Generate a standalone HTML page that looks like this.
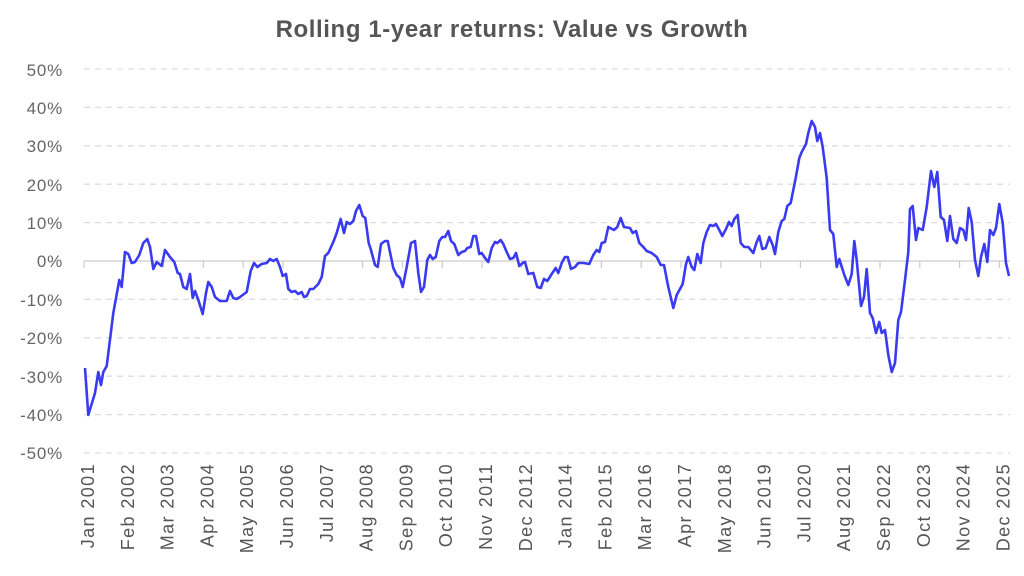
<!DOCTYPE html>
<html><head><meta charset="utf-8"><style>
html,body{margin:0;padding:0;background:#fff;}
svg{display:block;font-family:"Liberation Sans",sans-serif;}
</style></head><body>
<svg width="1024" height="576" viewBox="0 0 1024 576">
<text x="512" y="37" text-anchor="middle" font-size="24" font-weight="bold" fill="#555" letter-spacing="0.6">Rolling 1-year returns: Value vs Growth</text>
<g stroke="#ddd" stroke-width="1.3" stroke-dasharray="6,5">
<line x1="84" x2="1010" y1="69" y2="69"/><line x1="84" x2="1010" y1="107.4" y2="107.4"/><line x1="84" x2="1010" y1="145.8" y2="145.8"/><line x1="84" x2="1010" y1="184.2" y2="184.2"/><line x1="84" x2="1010" y1="222.6" y2="222.6"/>
<line x1="84" x2="1010" y1="299.4" y2="299.4"/><line x1="84" x2="1010" y1="337.8" y2="337.8"/><line x1="84" x2="1010" y1="376.2" y2="376.2"/><line x1="84" x2="1010" y1="414.6" y2="414.6"/><line x1="84" x2="1010" y1="453" y2="453"/>
</g>
<line x1="84" x2="1010" y1="261" y2="261" stroke="#ccc" stroke-width="1.2"/>
<g stroke="#ccc" stroke-width="1.2">
<line x1="84" x2="84" y1="261" y2="268"/><line x1="123.8" x2="123.8" y1="261" y2="268"/><line x1="163.6" x2="163.6" y1="261" y2="268"/><line x1="203.4" x2="203.4" y1="261" y2="268"/><line x1="243.2" x2="243.2" y1="261" y2="268"/><line x1="283" x2="283" y1="261" y2="268"/><line x1="322.8" x2="322.8" y1="261" y2="268"/><line x1="362.6" x2="362.6" y1="261" y2="268"/><line x1="402.4" x2="402.4" y1="261" y2="268"/><line x1="442.2" x2="442.2" y1="261" y2="268"/><line x1="482" x2="482" y1="261" y2="268"/><line x1="521.8" x2="521.8" y1="261" y2="268"/><line x1="561.6" x2="561.6" y1="261" y2="268"/><line x1="601.4" x2="601.4" y1="261" y2="268"/><line x1="641.2" x2="641.2" y1="261" y2="268"/><line x1="681" x2="681" y1="261" y2="268"/><line x1="720.8" x2="720.8" y1="261" y2="268"/><line x1="760.6" x2="760.6" y1="261" y2="268"/><line x1="800.4" x2="800.4" y1="261" y2="268"/><line x1="840.2" x2="840.2" y1="261" y2="268"/><line x1="880" x2="880" y1="261" y2="268"/><line x1="919.8" x2="919.8" y1="261" y2="268"/><line x1="959.6" x2="959.6" y1="261" y2="268"/><line x1="999.4" x2="999.4" y1="261" y2="268"/>
</g>
<g fill="#666" font-size="17" text-anchor="end" letter-spacing="0.8">
<text x="63" y="76">50%</text><text x="63" y="114">40%</text><text x="63" y="152">30%</text><text x="63" y="191">20%</text><text x="63" y="229">10%</text><text x="63" y="267">0%</text><text x="63" y="306">-10%</text><text x="63" y="344">-20%</text><text x="63" y="383">-30%</text><text x="63" y="421">-40%</text><text x="63" y="459">-50%</text>
</g>
<g fill="#555" font-size="18" text-anchor="end" letter-spacing="1.4">
<text transform="translate(94,463) rotate(-90)">Jan 2001</text>
<text transform="translate(133.8,463) rotate(-90)">Feb 2002</text>
<text transform="translate(173.6,463) rotate(-90)">Mar 2003</text>
<text transform="translate(213.4,463) rotate(-90)">Apr 2004</text>
<text transform="translate(253.2,463) rotate(-90)">May 2005</text>
<text transform="translate(293,463) rotate(-90)">Jun 2006</text>
<text transform="translate(332.8,463) rotate(-90)">Jul 2007</text>
<text transform="translate(372.6,463) rotate(-90)">Aug 2008</text>
<text transform="translate(412.4,463) rotate(-90)">Sep 2009</text>
<text transform="translate(452.2,463) rotate(-90)">Oct 2010</text>
<text transform="translate(492,463) rotate(-90)">Nov 2011</text>
<text transform="translate(531.8,463) rotate(-90)">Dec 2012</text>
<text transform="translate(571.6,463) rotate(-90)">Jan 2014</text>
<text transform="translate(611.4,463) rotate(-90)">Feb 2015</text>
<text transform="translate(651.2,463) rotate(-90)">Mar 2016</text>
<text transform="translate(691,463) rotate(-90)">Apr 2017</text>
<text transform="translate(730.8,463) rotate(-90)">May 2018</text>
<text transform="translate(770.6,463) rotate(-90)">Jun 2019</text>
<text transform="translate(810.4,463) rotate(-90)">Jul 2020</text>
<text transform="translate(850.2,463) rotate(-90)">Aug 2021</text>
<text transform="translate(890,463) rotate(-90)">Sep 2022</text>
<text transform="translate(929.8,463) rotate(-90)">Oct 2023</text>
<text transform="translate(969.6,463) rotate(-90)">Nov 2024</text>
<text transform="translate(1009.4,463) rotate(-90)">Dec 2025</text>
</g>
<polyline fill="none" stroke="#3a3af0" stroke-width="2.6" stroke-linejoin="round" points="85,368 88.3,415 95,393 98.3,372 101,385 103.3,372 106.7,366 113.3,313 119.3,280 121.7,287 125,252 128.3,254 131.7,263 135,262 139.3,255 143.3,243 147.3,239 150,247 153.3,269 156.7,262 161.7,266 165,250 170,257 174.3,262 177.7,273 180,274 183.3,287 186.7,289 190,274 192.7,298 195,291 198.3,300 202.7,314 206,293 208.3,282 211.7,287 215,297 220,301 226.7,301 230,291 233.3,298 236.7,299 240,297 246.7,292 250.7,271 254,263 257.3,267 261.7,264 266.7,263 270,259 273.3,261 276.7,259 280,267 282.7,276 286,274 288.3,289 291.7,292 295,291 298.3,294 301.7,292 304,297 306.7,296 310,289 313.3,289 318.3,284 321.7,277 325,256 328.3,253 333.3,242 336.7,233 340.7,219 344,233 346.7,222 350,224 353.3,221 356,211 359.3,205 362.7,216 365.3,218 368.7,243 370.7,249 375,265 377.7,267 381,244 385,241 387.7,241 393.3,268 396.7,275 400,278 402.7,287 406.7,267 411,243 415,241 418.3,273 421,292 424,287 427.3,260 430,255 432.7,259 435.7,257 439.3,241 442.3,237 445,237 448.3,231 451,241 454.3,244 458.3,255 461.7,252 465,251 467.3,248 470.7,247 473.3,236 476,236 479.3,254 481.7,253 485,258 488.3,262 491.7,248 495,242 497.3,243 500.7,240 503.3,244 506.7,252 510,259 513.3,258 516,253 519.3,266 522.7,263 525,262 528.3,274 533.3,273 537.3,287 540.7,288 544,279 547.3,281 551.7,274 555.7,268 558.3,273 561.7,263 565,257 567.7,257 571,269 575,267 578.3,263 583.3,263 589.3,264 593.3,255 596.7,250 599.3,252 601.7,243 605,242 608.3,227 614,230 617.3,227 620.7,218 624,227 630,228 632.7,233 636,231 639.3,243 643.3,247 646.7,251 651.7,253 656.7,257 660.7,265 664,265 668.3,287 673.3,308 676.7,295 682.7,284 686,264 688.3,257 691.7,267 694.3,270 697.3,254 700.7,263 703.3,243 706.7,232 710,225 713.3,226 716,224 719.3,230 722.3,236 726,229 729,222 731.7,226 734.3,219 737.7,215 740.7,243 744.3,247 748.3,247 753.3,253 756.7,242 759.3,236 762.3,249 765.7,248 769.3,237 772.7,245 775,254 778.3,232 781.7,221 784.3,219 787.3,206 790.7,203 795.7,178 799.3,158 801.7,152 806,144 808.3,133 811.7,121 815,127 817.3,141 820,133 822.7,147 826.7,178 830,230 833.3,234 836.7,267 839.3,259 844.3,275 848.3,285 851.7,274 854.3,241 856.7,260 861,306 864,297 866.7,269 870,313 872.7,318 876,333 879.3,322 881.7,333 885,330 888.3,355 891.7,372 895,363 898.3,320 901,312 905,280 908.3,252 910,209 912.7,206 916,240 918.3,228 922.7,230 926.7,207 931,171 934.3,187 937.3,172 940.7,217 944,220 947.3,241 950,216 953.3,239 956.7,243 960,228 963.3,230 966,240 968.7,208 971.7,222 975,260 978.3,276 981,257 984.3,244 987.3,262 990,230 993.3,235 996,228 999.3,204 1002.7,223 1006,263 1009,276"/>
</svg>
</body></html>
